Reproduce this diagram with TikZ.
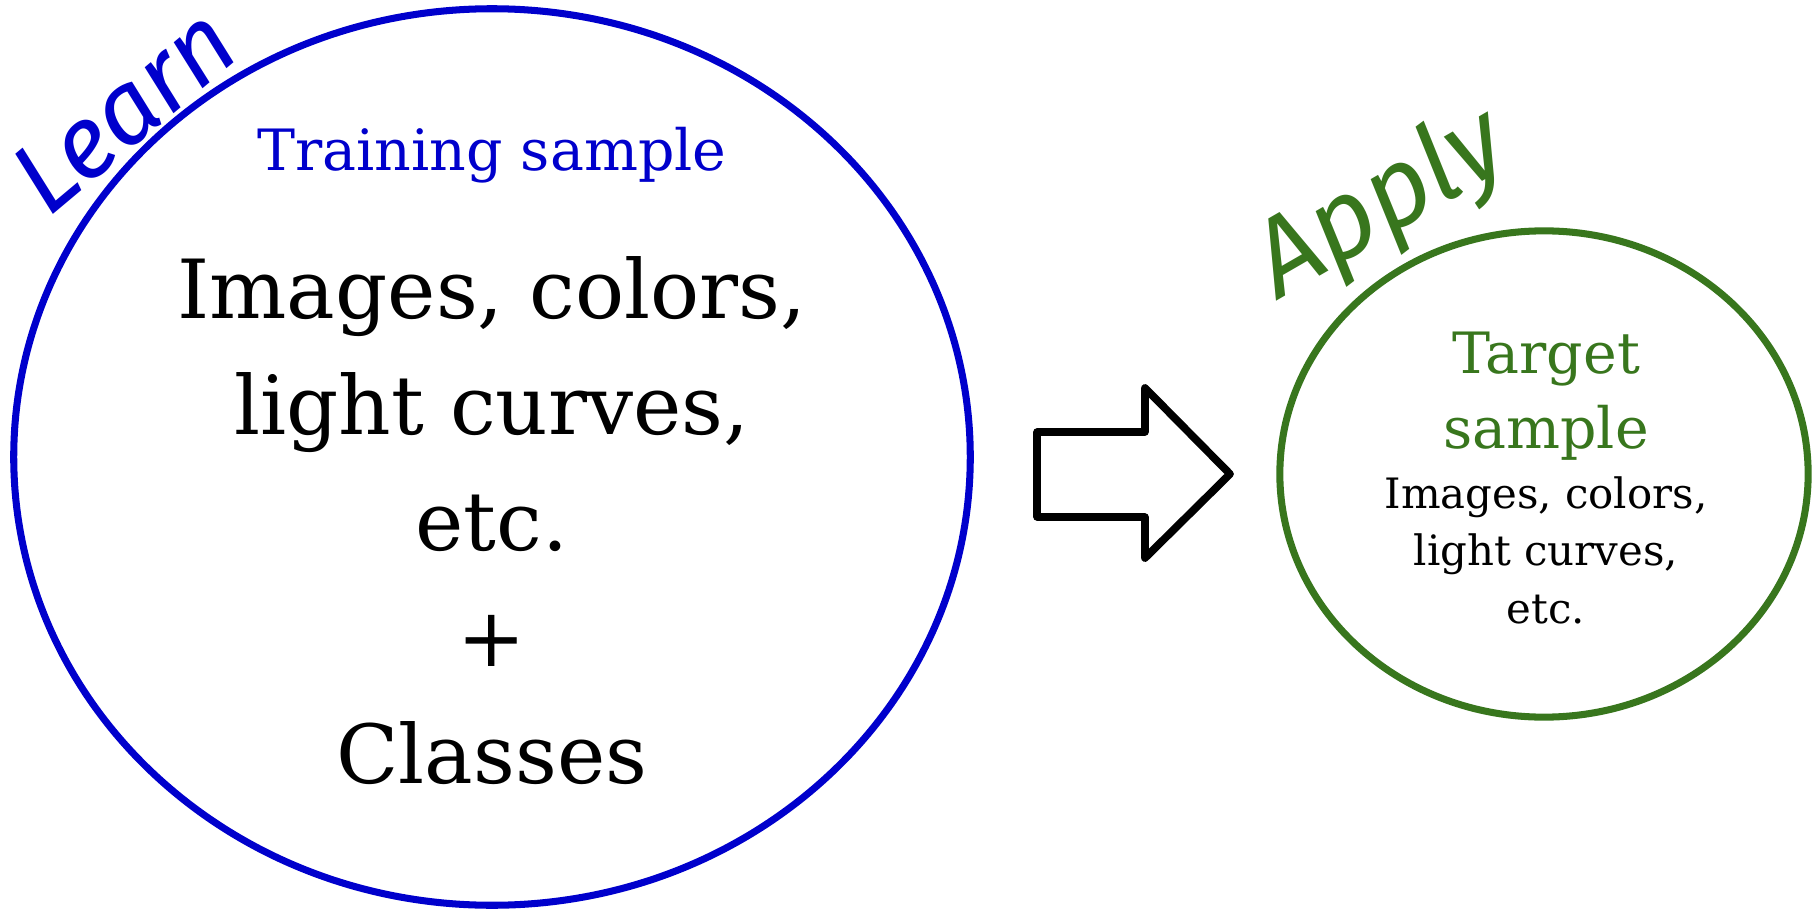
\documentclass[tikz,border=0pt]{standalone}
\usepackage{fontspec}
\setmainfont{DejaVu Serif}
\newfontfamily\handfont{Fira Sans}
\usepackage{tikz}
\usetikzlibrary{shapes.geometric}

\definecolor{learnblue}{HTML}{0000CC}
\definecolor{applygreen}{HTML}{38761D}

\tikzset{
  sampleset/.style={ellipse, draw, line width=2pt, inner sep=0pt},
  settext/.style={anchor=base, align=center},
  hand/.style={font=\handfont\itshape\fontsize{29}{29}\selectfont, inner sep=0pt},
}

\begin{document}
\begin{tikzpicture}[x=0.01cm,y=-0.01cm]
			\useasboundingbox (0,0) rectangle (1814,909);
			
			% Training set (multi-line nodes sit on their last baseline)
			\node[sampleset, learnblue, minimum width=9.56cm, minimum height=8.96cm] (train) at (492,457) {};
			\node[settext, learnblue, font=\fontsize{16.2}{21}\selectfont] (traintitle) at (492,170) {Training sample};
			\node[settext, font=\fontsize{23.2}{33}\selectfont] (traintext) at (492,783)
				{Images, colors,\\light curves,\\etc.\\+\\Classes};
			\node[hand, learnblue, rotate=40] (learn) at (124,110) {Learn};
			
			% Big arrow
			\draw[line width=2.2pt, line join=round] (1037,432) -- (1145,432) -- (1145,388) -- (1230,474)
				-- (1145,558) -- (1145,517) -- (1037,517) -- cycle;
			
			% Target set
			\node[sampleset, applygreen, minimum width=5.28cm, minimum height=4.86cm] (target) at (1544,474) {};
			\node[settext, applygreen, font=\fontsize{16.2}{21.3}\selectfont] (targettitle) at (1546,448) {Target\\sample};
			\node[settext, font=\fontsize{11.9}{16.3}\selectfont] (targettext) at (1546,623)
				{Images, colors,\\light curves,\\etc.};
			\node[hand, applygreen, rotate=30, font=\handfont\itshape\fontsize{31}{31}\selectfont] (apply) at (1382,206) {Apply};
		\end{tikzpicture}
\end{document}
